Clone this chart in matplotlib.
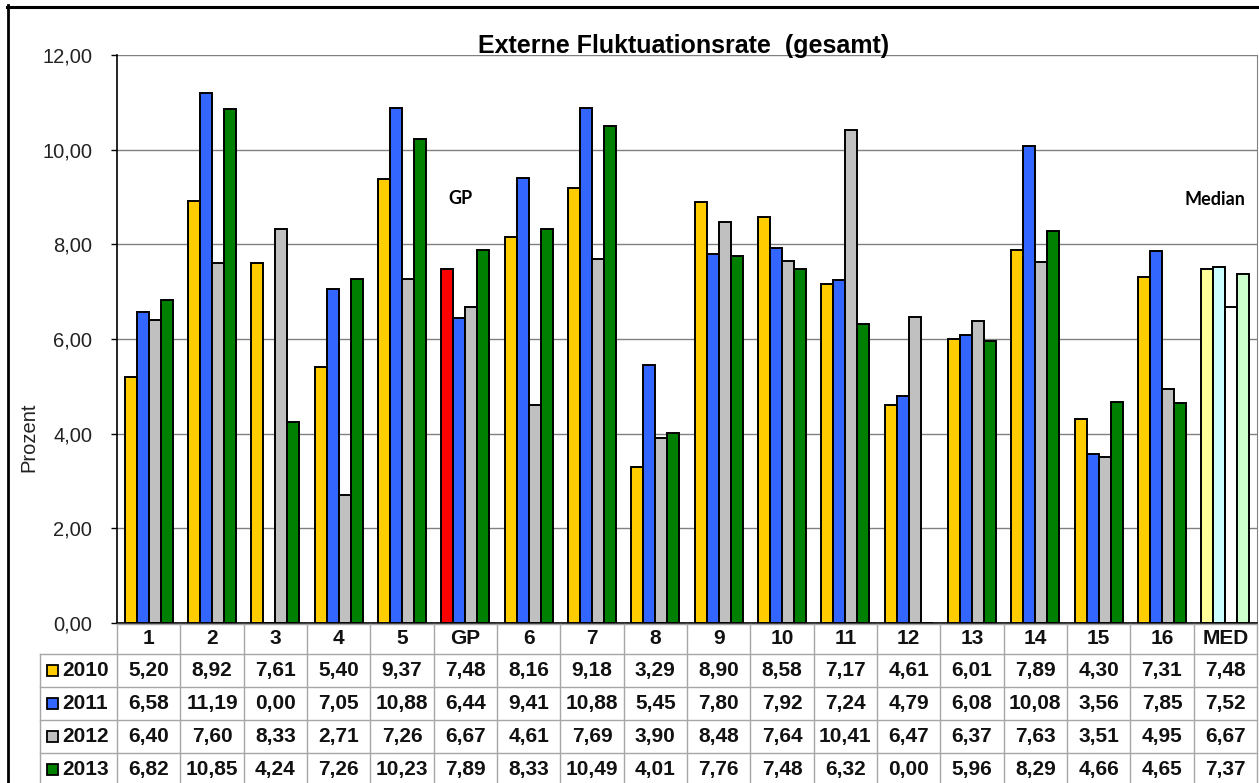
import numpy as np
import matplotlib
matplotlib.use("Agg")
import matplotlib.pyplot as plt
import matplotlib.transforms as mtransforms
from matplotlib.lines import Line2D
from matplotlib.patches import Rectangle

plt.rcParams['font.family'] = ['Liberation Sans', 'DejaVu Sans']

categories = ['1', '2', '3', '4', '5', 'GP', '6', '7', '8', '9', '10', '11',
              '12', '13', '14', '15', '16', 'MED']
years = ['2010', '2011', '2012', '2013']
rate_2010 = [5.20, 8.92, 7.61, 5.40, 9.37, 7.48, 8.16, 9.18, 3.29, 8.90, 8.58, 7.17, 4.61, 6.01, 7.89, 4.30, 7.31, 7.48]
rate_2011 = [6.58, 11.19, 0.00, 7.05, 10.88, 6.44, 9.41, 10.88, 5.45, 7.80, 7.92, 7.24, 4.79, 6.08, 10.08, 3.56, 7.85, 7.52]
rate_2012 = [6.40, 7.60, 8.33, 2.71, 7.26, 6.67, 4.61, 7.69, 3.90, 8.48, 7.64, 10.41, 6.47, 6.37, 7.63, 3.51, 4.95, 6.67]
rate_2013 = [6.82, 10.85, 4.24, 7.26, 10.23, 7.89, 8.33, 10.49, 4.01, 7.76, 7.48, 6.32, 0.00, 5.96, 8.29, 4.66, 4.65, 7.37]
series = [rate_2010, rate_2011, rate_2012, rate_2013]

year_colors = ['#FFCC00', '#3366FF', '#C0C0C0', '#008000']
gp_colors = ['#FF0000', '#3366FF', '#C0C0C0', '#008000']
med_colors = ['#FFFF99', '#CCFFFF', '#FFFFFF', '#CCFFCC']

W, H = 1259, 783
fig = plt.figure(figsize=(W / 100, H / 100), dpi=100)
fig.patch.set_facecolor('white')

# chart area in pixels
x0, x1, y_top, y_bot = 117, 1257, 55, 623
ax = fig.add_axes([x0 / W, 1 - y_bot / H, (x1 - x0) / W, (y_bot - y_top) / H])

n = len(categories)
xc = np.arange(n) + 0.5
bw = 0.19
for k, vals in enumerate(series):
    cols = [year_colors[k]] * n
    cols[categories.index('GP')] = gp_colors[k]
    cols[categories.index('MED')] = med_colors[k]
    ax.bar(xc + (k - 1.5) * bw, vals, width=bw, color=cols,
           edgecolor='black', linewidth=1.4, zorder=3)

ax.set_xlim(0, n)
ax.set_ylim(0, 12)
yt = np.arange(0, 13, 2)
ax.set_yticks(yt)
ax.set_yticklabels([f'{v:.2f}'.replace('.', ',') for v in yt],
                   fontsize=14.5, color='#222222')
ax.tick_params(axis='y', length=4, width=1, pad=14, color='black')
ax.set_xticks([])
ax.grid(axis='y', color='#808080', linewidth=1, zorder=0)
ax.set_axisbelow(True)
for side in ['left', 'bottom']:
    ax.spines[side].set_color('black')
    ax.spines[side].set_linewidth(1.2)
ax.spines['right'].set_color('#808080')
ax.spines['top'].set_visible(False)

ax.set_ylabel('Prozent', fontsize=14.5, color='#222222')
ax.yaxis.set_label_coords(-0.069, 0.327)

title_tr = mtransforms.blended_transform_factory(ax.transAxes, ax.transData)
ax.text(0.497, 12.04, 'Externe Fluktuationsrate  (gesamt)', transform=title_tr,
        ha='center', va='baseline', fontsize=18, fontweight='bold', clip_on=False)

ax.text(categories.index('GP') + 0.42, 8.96, 'GP', ha='center', va='center',
        fontsize=13, fontweight='bold', family=['Lato', 'DejaVu Sans'])
ax.text(categories.index('MED') + 0.34, 8.94, 'Median', ha='center', va='center',
        fontsize=13, fontweight='bold', family=['Lato', 'DejaVu Sans'])

# data table under the chart
px = (x1 - x0) / n          # pixels per category column
lab_w = (x0 - 40) / px
tab = fig.add_axes([40 / W, 0, (x1 - 40) / W, (H - y_bot) / H])
tab.set_xlim(-lab_w, n)
tab.set_ylim(H - y_bot, 0)
tab.axis('off')

row_edges = [1, 31, 64, 97, 130, 163]
line_c = '#A6A6A6'
tab.plot([0, n], [row_edges[0]] * 2, color=line_c, lw=1, clip_on=False)
for r in row_edges[1:]:
    tab.plot([-lab_w, n], [r, r], color=line_c, lw=1, clip_on=False)
for i in range(n + 1):
    tab.plot([i, i], [row_edges[0], row_edges[-1]], color=line_c, lw=1, clip_on=False)
tab.plot([-lab_w, -lab_w], [row_edges[1], row_edges[-1]], color=line_c, lw=1, clip_on=False)

hdr_y = (row_edges[0] + row_edges[1]) / 2
for i, c in enumerate(categories):
    tab.text(i + 0.5, hdr_y, c, ha='center', va='center', fontsize=15,
             fontweight='bold', color='#111111', clip_on=False)

for k, vals in enumerate(series):
    yc = (row_edges[k + 1] + row_edges[k + 2]) / 2
    for i, v in enumerate(vals):
        tab.text(i + 0.5, yc, f'{v:.2f}'.replace('.', ','), ha='center', va='center',
                 fontsize=15, fontweight='bold', color='#111111', clip_on=False)
    tab.add_patch(Rectangle((-lab_w + 7 / px, yc - 5.5), 11 / px, 11,
                            facecolor=year_colors[k], edgecolor='black', lw=1.3,
                            clip_on=False))
    tab.text(-lab_w + 22 / px, yc, years[k], ha='left', va='center',
             fontsize=15, fontweight='bold', color='#111111', clip_on=False)

# black frame lines at the top and left
fig.add_artist(Line2D([7 / W, 1], [1 - 6.5 / H] * 2, transform=fig.transFigure,
                      color='black', lw=2.2))
fig.add_artist(Line2D([8 / W, 8 / W], [1 - 5 / H, 0], transform=fig.transFigure,
                      color='black', lw=2.0))

fig.savefig('out.png', dpi=100)
